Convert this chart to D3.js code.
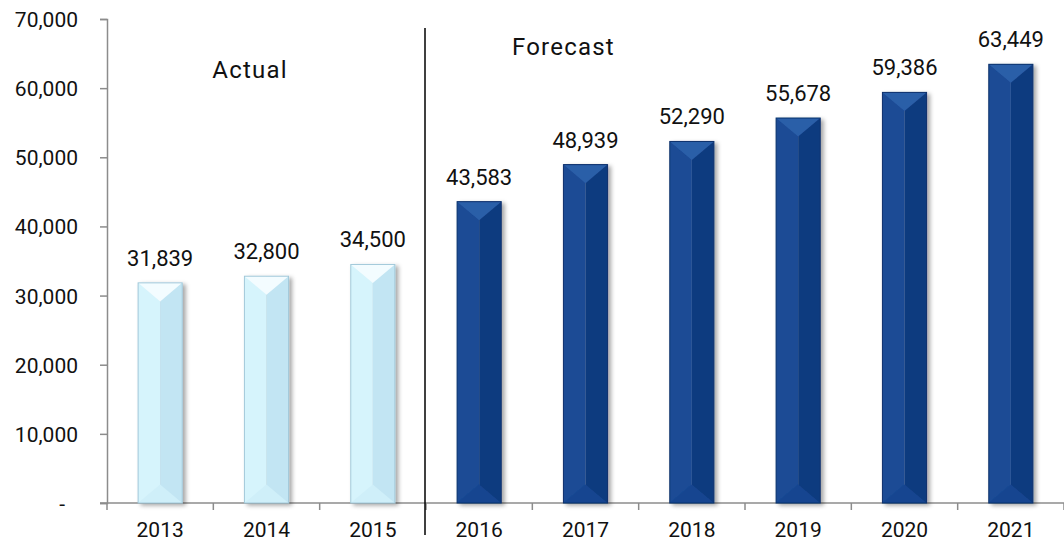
<!DOCTYPE html>
<html>
<head>
    <style>
        body { margin: 0; background: #fff; }
        text { font-family: Roboto, "DejaVu Sans", sans-serif; font-weight: 400; fill: #111; }
        .axis path, .axis line { stroke: #8c8c8c; stroke-width: 1.5px; }
        .axis text { font-size: 21px; fill: #111; }
        .val { font-size: 22px; text-anchor: middle; }
        .period { font-size: 24px; letter-spacing: 1.2px; }
    </style>
    <script src="https://d3js.org/d3.v7.min.js"></script>
</head>
<body>
<svg id="chart" width="1064" height="550"></svg>
<script>
    var years = ["2013", "2014", "2015", "2016", "2017", "2018", "2019", "2020", "2021"];
    var values = [31839, 32800, 34500, 43583, 48939, 52290, 55678, 59386, 63449];
    var kinds = ["actual", "actual", "actual", "forecast", "forecast", "forecast", "forecast", "forecast", "forecast"];
    var yTicks = [0, 10000, 20000, 30000, 40000, 50000, 60000, 70000];
    var yTickLabels = ["-", "10,000", "20,000", "30,000", "40,000", "50,000", "60,000", "70,000"];

    var svg = d3.select("#chart"),
        margin = { left: 107, right: 1064, top: 19, bottom: 503 };

    var x = d3.scaleBand().domain(years).range([margin.left, margin.right]).padding(0);
    var y = d3.scaleLinear().domain([0, 70000]).range([margin.bottom, margin.top]);

    var palette = {
        actual: { left: "#d6f4fc", right: "#c2e5f3", top: "#f3fcff", bottom: "#cfeff9", edge: "#a3c9da" },
        forecast: { left: "#1a4b95", right: "#0f3b7f", top: "#2c5ea8", bottom: "#164590", edge: "#0b316c" }
    };

    // shadow filter
    var defs = svg.append("defs");
    var f = defs.append("filter").attr("id", "shadow")
        .attr("x", "-30%").attr("y", "-10%").attr("width", "170%").attr("height", "130%");
    f.append("feDropShadow").attr("dx", 3).attr("dy", 2).attr("stdDeviation", 2)
        .attr("flood-color", "#000").attr("flood-opacity", 0.35);

    // y axis
    var yAxis = svg.append("g").attr("class", "axis")
        .attr("transform", "translate(" + margin.left + ",0)")
        .call(d3.axisLeft(y).tickValues(yTicks).tickSize(7).tickPadding(22)
            .tickFormat(function (d, i) { return yTickLabels[i]; }));
    yAxis.selectAll("text").attr("dy", "0.36em")
        .attr("dx", function (d) { return d === 0 ? -13 : 0; });

    // x axis: labels at centres, ticks at category boundaries
    var xAxis = svg.append("g").attr("class", "axis")
        .attr("transform", "translate(0," + margin.bottom + ")")
        .call(d3.axisBottom(x).tickSize(0).tickPadding(22));
    xAxis.select(".domain").attr("d", "M" + (margin.left - 7) + ",0H" + margin.right);
    xAxis.selectAll("text").attr("dy", "0.55em");
    xAxis.selectAll(".bound")
        .data(d3.range(years.length + 1))
        .enter().append("line")
        .attr("class", "bound")
        .attr("x1", function (i) { return margin.left + i * x.step(); })
        .attr("x2", function (i) { return margin.left + i * x.step(); })
        .attr("y1", 0).attr("y2", 7);

    // bars
    var bw = x.bandwidth() * 0.415;
    var bars = svg.selectAll(".bar")
        .data(years)
        .enter().append("g")
        .attr("class", "bar")
        .attr("filter", "url(#shadow)");

    bars.each(function (yr, i) {
        var g = d3.select(this),
            c = palette[kinds[i]],
            cx = x(yr) + x.bandwidth() / 2,
            x0 = cx - bw / 2, x1 = cx + bw / 2,
            t = y(values[i]), b = y(0),
            d = bw * 0.42;
        g.append("rect").attr("x", x0).attr("y", t).attr("width", bw / 2).attr("height", b - t).attr("fill", c.left);
        g.append("rect").attr("x", cx).attr("y", t).attr("width", bw / 2).attr("height", b - t).attr("fill", c.right);
        g.append("polygon").attr("points", [[x0, b], [x1, b], [cx, b - d]].join(" ")).attr("fill", c.bottom);
        g.append("polygon").attr("points", [[x0, t], [x1, t], [cx, t + d]].join(" ")).attr("fill", c.top);
        g.append("rect").attr("x", x0).attr("y", t).attr("width", bw).attr("height", b - t)
            .attr("fill", "none").attr("stroke", c.edge).attr("stroke-width", 1);
    });

    // value labels
    svg.selectAll(".val")
        .data(years)
        .enter().append("text")
        .attr("class", "val")
        .attr("x", function (d) { return x(d) + x.bandwidth() / 2; })
        .attr("y", function (d, i) { return y(values[i]) - 17; })
        .text(function (d, i) { return d3.format(",")(values[i]); });

    // divider between actual and forecast
    var divX = x("2016") - 1;
    svg.append("line")
        .attr("x1", divX).attr("x2", divX)
        .attr("y1", 28).attr("y2", 535)
        .attr("stroke", "#000").attr("stroke-width", 1.5);

    svg.append("text").attr("class", "period")
        .attr("x", 250).attr("y", 78)
        .attr("text-anchor", "middle").text("Actual");
    svg.append("text").attr("class", "period")
        .attr("x", divX + 87).attr("y", 55)
        .text("Forecast");
</script>
</body>
</html>
